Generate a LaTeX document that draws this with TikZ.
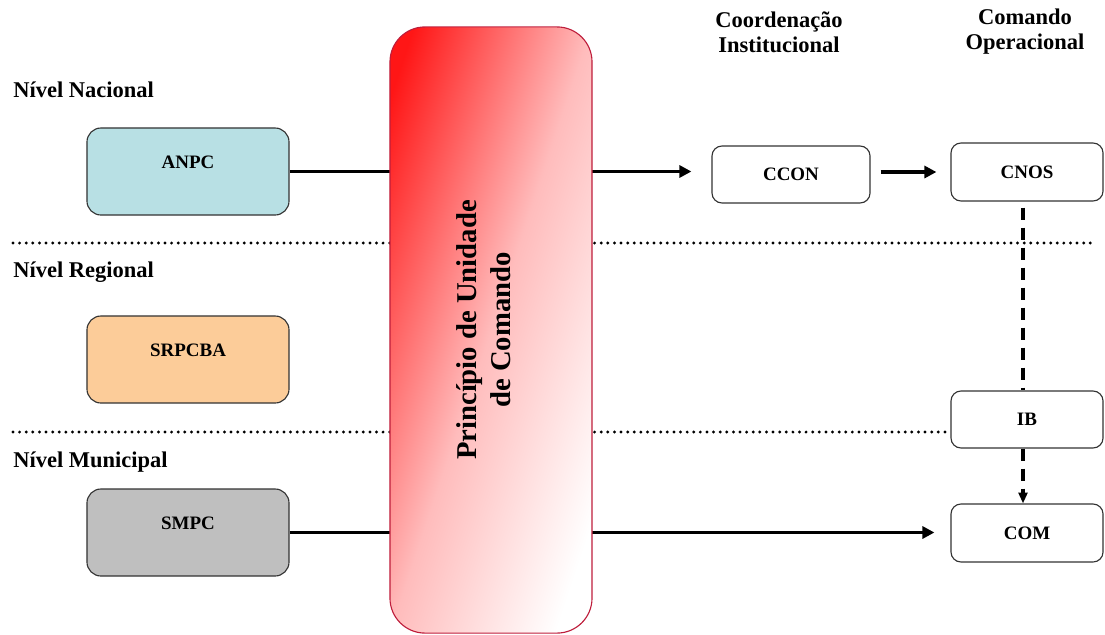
\documentclass[tikz,border=0pt]{standalone}
\usepackage{fontspec}
\setmainfont{Liberation Serif}
\usetikzlibrary{arrows.meta,backgrounds}

\begin{document}
\begin{tikzpicture}[x=0.025cm,y=-0.025cm,
    box/.style={draw=black!80, line width=0.8pt, rounded corners=0.3cm, font=\bfseries\fontsize{13.5}{16}\selectfont},
    levelbox/.style={box, rounded corners=0.35cm, minimum width=5.05cm, minimum height=2.175cm, text height=0.31cm, text depth=0.45cm},
    cmdbox/.style={box, fill=white, rounded corners=0.25cm, minimum height=1.45cm},
    level/.style={anchor=base west, inner sep=0pt, font=\bfseries\fontsize{16}{19}\selectfont},
    header/.style={align=center, font=\bfseries\fontsize{16}{17.8}\selectfont},
    flow/.style={line width=2.5pt, -{Triangle[length=0.3cm,width=0.3cm]}},
    split/.style={line width=2.3pt, line cap=round, dash pattern=on 0pt off 4.7pt},
    chain/.style={line width=2.7pt, dash pattern=on 0.3cm off 0.2cm}]

    % Define colors
    \definecolor{anpcblue}{RGB}{184,224,228}
    \definecolor{srpcorange}{RGB}{252,204,153}
    \definecolor{smpcgray}{RGB}{191,191,191}
    \definecolor{unidadered}{RGB}{255,22,22}
    \definecolor{unidadepink}{RGB}{255,188,188}
    \definecolor{unidadeborder}{RGB}{190,30,60}
    \pgfdeclareverticalshading{unidadeshade}{100bp}{color(0bp)=(white); color(37bp)=(white);
        color(50bp)=(unidadepink); color(64bp)=(unidadered); color(100bp)=(unidadered)}

    \useasboundingbox (0,0) rectangle (1105,634);

    %-------------
    % Levels
    \node[level] (nacional) at (13,97) {Nível Nacional};
    \node[level] (regional) at (13,277) {Nível Regional};
    \node[level] (municipal) at (13,467) {Nível Municipal};

    \node[levelbox, fill=anpcblue] (ANPC) at (188,171.5) {ANPC};
    \node[levelbox, fill=srpcorange] (SRPCBA) at (188,359.5) {SRPCBA};
    \node[levelbox, fill=smpcgray] (SMPC) at (188,532.5) {SMPC};

    %-------------
    % Unity of command
    \node[draw=unidadeborder, line width=0.8pt, rounded corners=0.875cm, minimum width=5.05cm, minimum height=15.15cm,
        path picture={\shade[shading=unidadeshade, shading angle=71.6]
            ([shift={(-303,-303)}]path picture bounding box.center) rectangle
            ([shift={(303,303)}]path picture bounding box.center);}] (unidade) at (491,330) {};
    \node[rotate=90, align=center, font=\bfseries\fontsize{20.4}{24.2}\selectfont] (unidadetext)
        at ([xshift=-0.175cm]unidade.center) {Princípio de Unidade\\de Comando};

    %-------------
    % Coordination and command
    \node[header] (coordenacao) at (779,32) {Coordenação\\Institucional};
    \node[header] (comando) at (1025,32) {Comando\\Operacional};

    \node[cmdbox, minimum width=3.95cm, minimum height=1.425cm] (CCON) at (791,174.5) {CCON};
    \node[cmdbox, minimum width=3.8cm] (CNOS) at (1027,172) {CNOS};
    \node[cmdbox, minimum width=3.8cm, minimum height=1.425cm] (IB) at (1027,419.5) {IB};
    \node[cmdbox, minimum width=3.8cm] (COM) at (1027,533) {COM};

    \draw[flow, shorten <=0.25cm, shorten >=0.35cm] (CCON.east |- CNOS.west) -- (CNOS.west);
    \draw[chain, shorten <=0.15cm] ([xshift=-0.1cm]CNOS.south) -- ([xshift=-0.1cm]IB.north);
    \draw[chain, -{Triangle[length=0.27cm,width=0.22cm]}] ([xshift=-0.1cm]IB.south) -- ([xshift=-0.1cm]COM.north);

    %-------------
    % Behind the unity box
    \begin{pgfonlayer}{background}
        \coordinate (nacionalend) at (13,243);
        \coordinate (regionalend) at (13,432);
        \draw[split] (nacionalend) -- (1092,243);
        \draw[split] (regionalend) -- (regionalend -| IB.west);

        \draw[flow, shorten >=0.5cm] (ANPC.east) -- (ANPC.east -| CCON.west);
        \draw[flow, shorten >=0.4cm] (SMPC.east) -- (SMPC.east -| COM.west);
    \end{pgfonlayer}

\end{tikzpicture}
\end{document}
